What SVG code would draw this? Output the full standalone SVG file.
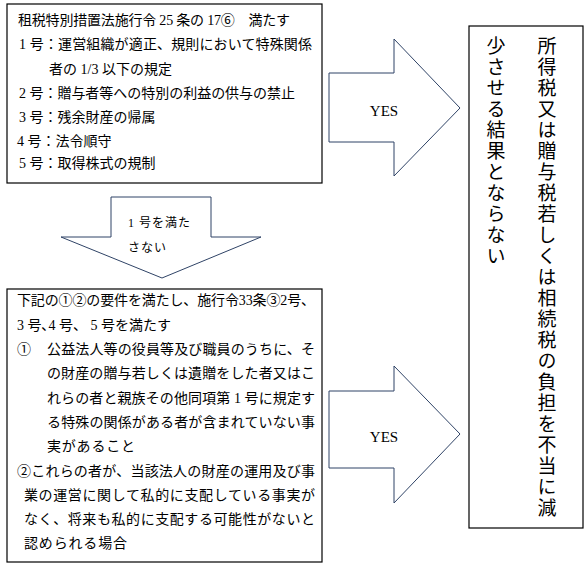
<svg xmlns="http://www.w3.org/2000/svg" width="586" height="565" viewBox="0 0 586 565">
<style>
.box{fill:#fff;stroke:#000;stroke-width:1.2}
.arrow{fill:#fff;stroke:#2f4366;stroke-width:1}
.t{font-family:"Liberation Serif","Noto Sans CJK JP",serif;font-size:14px;fill:#000}
.lbl{font-family:"Liberation Serif","Noto Sans CJK JP",serif;font-size:12px;fill:#000;letter-spacing:1px}
.yes{font-family:"Liberation Serif",serif;font-size:15px;fill:#000;text-anchor:middle}
.v{font-family:"Liberation Serif","Noto Sans CJK JP",serif;font-size:19px;fill:#000;writing-mode:vertical-rl;text-orientation:upright;letter-spacing:2px}
</style>
<rect width="586" height="565" fill="#fff"/>
<g id="node-top">
<rect class="box" x="7" y="4" width="315" height="179"/>
<text class="t" x="18" y="25" textLength="272" lengthAdjust="spacing">租税特別措置法施行令 25 条の 17⑥　満たす</text>
<text class="t" x="19" y="49" textLength="293" lengthAdjust="spacing">1 号：運営組織が適正、規則において特殊関係</text>
<text class="t" x="49" y="74">者の 1/3 以下の規定</text>
<text class="t" x="19" y="98" textLength="276" lengthAdjust="spacing">2 号：贈与者等への特別の利益の供与の禁止</text>
<text class="t" x="19" y="122">3 号：残余財産の帰属</text>
<text class="t" x="17" y="146">4 号：法令順守</text>
<text class="t" x="19" y="168">5 号：取得株式の規制</text>
</g>
<g id="node-bottom">
<rect class="box" x="7" y="289" width="315" height="273"/>
<text class="t" x="17" y="305" textLength="298" lengthAdjust="spacing">下記の①②の要件を満たし、施行令33条③2号、</text>
<text class="t" x="17" y="330">3 号､4 号、 5 号を満たす</text>
<text class="t" x="17" y="354">①</text>
<text class="t" x="47" y="354" textLength="268" lengthAdjust="spacing">公益法人等の役員等及び職員のうちに、そ</text>
<text class="t" x="47" y="378" textLength="268" lengthAdjust="spacing">の財産の贈与若しくは遺贈をした者又はこ</text>
<text class="t" x="47" y="403" textLength="268" lengthAdjust="spacing">れらの者と親族その他同項第 1 号に規定す</text>
<text class="t" x="47" y="427" textLength="268" lengthAdjust="spacing">る特殊の関係がある者が含まれていない事</text>
<text class="t" x="47" y="451" textLength="88" lengthAdjust="spacing">実があること</text>
<text class="t" x="17" y="476" textLength="298" lengthAdjust="spacing">②これらの者が、当該法人の財産の運用及び事</text>
<text class="t" x="24" y="500" textLength="291" lengthAdjust="spacing">業の運営に関して私的に支配している事実が</text>
<text class="t" x="24" y="524" textLength="291" lengthAdjust="spacing">なく、将来も私的に支配する可能性がないと</text>
<text class="t" x="24" y="548" textLength="103" lengthAdjust="spacing">認められる場合</text>
</g>
<g id="node-result">
<rect class="box" x="469" y="26" width="114" height="502"/>
<text class="v" x="545" y="36">所得税又は贈与税若しくは相続税の負担を不当に減</text>
<text class="v" x="494" y="36">少させる結果とならない</text>
</g>
<g id="connectors">
<g id="arrow-down">
<polygon class="arrow" points="111,197 211,197 211,237 261,237 162,278 61,237 111,237"/>
<text class="lbl" x="128" y="227">1 号を満た</text>
<text class="lbl" x="128" y="252">さない</text>
</g>
<g id="arrow-yes-1">
<polygon class="arrow" points="329,73 394,73 394,39 460,108 394,176 394,142 329,142"/>
<text class="yes" x="384" y="116">YES</text>
</g>
<g id="arrow-yes-2">
<polygon class="arrow" points="329,391 394,391 394,366 460,434 394,503 394,468 329,468"/>
<text class="yes" x="384" y="442">YES</text>
</g>
</g>
</svg>
